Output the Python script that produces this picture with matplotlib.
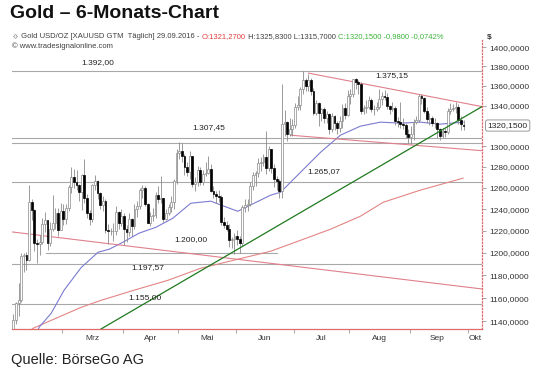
import numpy as np
import matplotlib
matplotlib.use('Agg')
import matplotlib.pyplot as plt
import matplotlib.transforms as mtransforms
from matplotlib.ticker import FixedLocator, NullLocator, FuncFormatter

# daily OHLC, XAUUSD, 03.02.2016 - 29.09.2016 (weekdays)
opens = [
    # Feb
    1128, 1141, 1156, 1158, 1197, 1198, 1194, 1247, 1239, 1209, 1208, 1210, 1226, 1230, 1209, 1222, 1227, 1236, 1221,
    # Mrz
    1238, 1231, 1241, 1261, 1270, 1265, 1263, 1256, 1272, 1250, 1236, 1231, 1263, 1266, 1255, 1244, 1248, 1221, 1220, 1220, 1220, 1237, 1227,
    # Apr
    1234, 1222, 1219, 1231, 1224, 1240, 1243, 1258, 1260, 1245, 1227, 1234, 1235, 1253, 1249, 1250, 1231, 1236, 1242, 1247, 1266,
    # Mai
    1293, 1295, 1290, 1280, 1275, 1290, 1264, 1265, 1277, 1265, 1273, 1274, 1278, 1257, 1254, 1252, 1251, 1228, 1225, 1222, 1212, 1213,
    # Jun
    1215, 1213, 1209, 1242, 1244, 1245, 1262, 1272, 1274, 1284, 1285, 1289, 1279, 1297, 1279, 1268, 1266, 1257, 1322, 1324, 1312, 1317,
    # Jul
    1321, 1339, 1341, 1357, 1366, 1360, 1366, 1355, 1333, 1343, 1333, 1337, 1328, 1332, 1317, 1330, 1323, 1318, 1325, 1338, 1331,
    # Aug
    1350, 1352, 1367, 1364, 1362, 1335, 1338, 1339, 1346, 1337, 1337, 1339, 1347, 1350, 1349, 1340, 1337, 1338, 1325, 1324, 1322, 1321, 1312,
    # Sep
    1309, 1312, 1324, 1326, 1350, 1348, 1335, 1327, 1328, 1323, 1323, 1317, 1310, 1315, 1314, 1335, 1337, 1338, 1339, 1326, 1321,
]
highs = [
    1146, 1157, 1173, 1200, 1200, 1201, 1263, 1249, 1240, 1213, 1216, 1232, 1237, 1230, 1228, 1253, 1241, 1241, 1246,
    1245, 1245, 1263, 1280, 1278, 1277, 1264, 1273, 1287, 1254, 1239, 1264, 1272, 1267, 1256, 1252, 1249, 1226, 1223, 1227, 1243, 1238, 1240,
    1236, 1225, 1236, 1232, 1245, 1248, 1260, 1263, 1262, 1246, 1237, 1241, 1256, 1262, 1271, 1250, 1240, 1245, 1252, 1268, 1297,
    1304, 1303, 1292, 1285, 1295, 1290, 1270, 1281, 1280, 1277, 1285, 1290, 1283, 1262, 1257, 1258, 1253, 1233, 1229, 1226, 1214, 1218,
    1221, 1215, 1244, 1249, 1249, 1265, 1275, 1276, 1288, 1289, 1292, 1315, 1300, 1297, 1283, 1271, 1268, 1362, 1336, 1325, 1328, 1327,
    1343, 1350, 1359, 1375, 1368, 1372, 1368, 1358, 1346, 1344, 1338, 1339, 1335, 1333, 1333, 1331, 1325, 1330, 1342, 1343, 1356,
    1357, 1367, 1368, 1366, 1364, 1341, 1346, 1350, 1348, 1341, 1344, 1357, 1354, 1356, 1353, 1341, 1344, 1340, 1329, 1344, 1328, 1323, 1317,
    1320, 1327, 1330, 1352, 1352, 1349, 1339, 1333, 1330, 1328, 1324, 1318, 1318, 1318, 1338, 1343, 1342, 1344, 1342, 1330, 1326,
]
lows = [
    1126, 1138, 1145, 1157, 1183, 1185, 1193, 1230, 1202, 1191, 1198, 1208, 1219, 1203, 1206, 1220, 1222, 1215, 1221,
    1225, 1226, 1238, 1255, 1260, 1258, 1248, 1239, 1246, 1232, 1225, 1228, 1258, 1249, 1240, 1238, 1218, 1208, 1216, 1211, 1216, 1222, 1224,
    1207, 1210, 1215, 1215, 1222, 1233, 1240, 1250, 1243, 1227, 1224, 1229, 1232, 1246, 1246, 1228, 1230, 1235, 1237, 1240, 1264,
    1287, 1285, 1272, 1271, 1268, 1261, 1257, 1262, 1263, 1263, 1271, 1273, 1256, 1250, 1246, 1247, 1225, 1223, 1220, 1205, 1204, 1199,
    1207, 1200, 1206, 1237, 1238, 1243, 1258, 1262, 1270, 1276, 1281, 1273, 1276, 1274, 1261, 1258, 1250, 1250, 1310, 1305, 1310, 1310,
    1318, 1336, 1336, 1352, 1355, 1355, 1351, 1331, 1331, 1320, 1325, 1323, 1323, 1312, 1314, 1316, 1312, 1314, 1318, 1327, 1330,
    1342, 1349, 1357, 1352, 1332, 1332, 1333, 1337, 1334, 1331, 1335, 1337, 1341, 1346, 1337, 1332, 1335, 1321, 1319, 1318, 1317, 1308, 1303,
    1302, 1306, 1322, 1324, 1342, 1333, 1323, 1321, 1320, 1318, 1308, 1306, 1308, 1309, 1312, 1332, 1335, 1333, 1322, 1316, 1316,
]
closes = [
    1141, 1156, 1158, 1197, 1198, 1194, 1247, 1239, 1209, 1208, 1210, 1226, 1230, 1209, 1222, 1227, 1236, 1221, 1238,
    1231, 1241, 1261, 1270, 1265, 1263, 1256, 1272, 1250, 1236, 1231, 1263, 1266, 1255, 1244, 1248, 1221, 1220, 1220, 1220, 1237, 1227, 1234,
    1222, 1219, 1231, 1224, 1240, 1243, 1258, 1260, 1245, 1227, 1234, 1235, 1253, 1249, 1250, 1231, 1236, 1242, 1247, 1266, 1293,
    1295, 1290, 1280, 1275, 1290, 1264, 1265, 1277, 1265, 1273, 1274, 1278, 1257, 1254, 1252, 1251, 1228, 1225, 1222, 1212, 1213, 1215,
    1213, 1209, 1242, 1244, 1245, 1262, 1272, 1274, 1284, 1285, 1289, 1279, 1297, 1279, 1268, 1266, 1257, 1322, 1324, 1312, 1317, 1321,
    1339, 1341, 1357, 1366, 1360, 1366, 1355, 1333, 1343, 1333, 1337, 1328, 1332, 1317, 1330, 1323, 1318, 1325, 1338, 1331, 1350,
    1352, 1367, 1364, 1362, 1335, 1338, 1339, 1346, 1337, 1337, 1339, 1347, 1350, 1349, 1340, 1337, 1338, 1325, 1324, 1322, 1321, 1312, 1309,
    1312, 1324, 1326, 1350, 1348, 1335, 1327, 1328, 1323, 1323, 1317, 1310, 1315, 1314, 1335, 1337, 1338, 1339, 1326, 1322, 1320,
]
assert len(opens) == len(highs) == len(lows) == len(closes) == 172

# month boundaries (bar index) and label positions
month_edges = [18.5, 41.5, 62.5, 84.5, 106.5, 127.5, 150.5, 172.5]
month_pos = [30, 52, 73.5, 95.5, 117, 139, 161, 175.5]
month_names = ['Mrz', 'Apr', 'Mai', 'Jun', 'Jul', 'Aug', 'Sep', 'Okt']

y_ticks = [1140, 1160, 1180, 1200, 1220, 1240, 1260, 1280, 1300, 1340, 1360, 1380, 1400]
last_price = 1320.15

# moving averages
ma50_x = [8, 9.8, 14.4, 19.3, 25.8, 32.2, 36.4, 40.9, 47.7, 54.2, 60.6, 67.4, 75, 85.2, 97.7, 101.5, 109.1, 116.7, 124.2, 131.8, 139.4, 147, 154.5, 162.1, 170.8]
ma50_y = [1125, 1135, 1147, 1167, 1187, 1200.6, 1203.3, 1208.7, 1217.8, 1223.3, 1231.6, 1245.5, 1247.4, 1238, 1253, 1255.8, 1274.8, 1294, 1310.6, 1319.5, 1323.5, 1322.5, 1323.5, 1321.5, 1323.5]
ma200_x = [4, 7.6, 14.4, 25.8, 33.3, 45.8, 58.7, 71.2, 83.7, 97.7, 109.1, 120.5, 131.8, 140.5, 154.5, 170.8]
ma200_y = [1128, 1134.2, 1140.9, 1152.1, 1158.1, 1166.9, 1175.6, 1186.3, 1193.4, 1201.5, 1211.4, 1221.5, 1233.4, 1246.4, 1257.7, 1269.1]

# horizontal support / resistance lines: (value, start, end)
h_levels = [1375.15, 1307.45, 1303.0, 1265.07, 1200.0, 1190.0, 1155.0]
h_start = [-0.5, -0.5, -0.5, -0.5, 12.5, -0.5, -0.5]
h_end = [178, 178, 178, 178, 100, 178, 178]
h_labels = ['1.392,00', '1.375,15', '1.307,45', '1.265,07', '1.200,00', '1.197,57', '1.155,00']
h_label_x = [32.2, 143.6, 74.2, 117.8, 67.4, 51.1, 50.0]
h_label_y = [1384.3, 1370.0, 1318.0, 1275.7, 1212.0, 1186.5, 1160.5]

# trend lines: (x0, y0, x1, y1)
tri_upper = [112.1, 1373.0, 178, 1339.0]
tri_lower = [105.3, 1310.6, 178, 1295.5]
long_down = [-0.5, 1219.0, 178, 1168.0]
green_up = [33.3, 1133.5, 178, 1339.0]

o = np.array(opens, float)
h = np.array(highs, float)
l = np.array(lows, float)
c = np.array(closes, float)
x = np.arange(len(c))
up = c >= o

fig = plt.figure(figsize=(5.4, 3.72), dpi=100)
ax = fig.add_axes([12/540, 43/372, 470/540, 289/372])
ax.set_yscale('log')

for v, a, b in zip(h_levels, h_start, h_end):
    ax.plot([a, b], [v, v], color='#a8a8a8', lw=0.8, zorder=1)

ax.plot(ma200_x, ma200_y, color='#e38585', lw=0.8, zorder=2)
ax.plot(ma50_x, ma50_y, color='#7b7bd0', lw=0.8, zorder=2)
pink = '#e0808c'
for seg in (tri_upper, tri_lower, long_down):
    ax.plot([seg[0], seg[2]], [seg[1], seg[3]], color=pink, lw=0.8, zorder=2)

ax.vlines(x, l, h, color='#8a8a8a', lw=0.6, zorder=3)
lo = np.minimum(o, c)
hi = np.maximum(o, c)
ax.bar(x[up], (hi - lo)[up], bottom=lo[up], width=0.7, color='white',
       edgecolor='#8a8a8a', lw=0.5, zorder=4)
ax.bar(x[~up], (hi - lo)[~up], bottom=lo[~up], width=0.7, color='black',
       edgecolor='black', lw=0.5, zorder=4)

ax.plot([green_up[0], green_up[2]], [green_up[1], green_up[3]], color='#1f7a1f', lw=0.9, zorder=5)

for txt, tx, ty in zip(h_labels, h_label_x, h_label_y):
    ax.text(tx, ty, txt, fontsize=6, color='#222222', ha='center', va='center',
            family='Liberation Sans', zorder=6)

ax.set_xlim(-0.5, 178)
ax.set_ylim(1133.5, 1407.5)

ax.yaxis.tick_right()
ax.yaxis.set_major_locator(FixedLocator(y_ticks))
ax.yaxis.set_minor_locator(NullLocator())
ax.yaxis.set_major_formatter(FuncFormatter(lambda v, p: f'{v:.4f}'.replace('.', ',')))
ax.tick_params(axis='y', labelsize=6, labelcolor='#333333', color='#999999', length=3, width=0.6, pad=2)

ax.xaxis.set_major_locator(FixedLocator(month_pos))
ax.xaxis.set_major_formatter(FuncFormatter(lambda v, p: month_names[p] if p is not None and p < len(month_names) else ''))
ax.set_xticks(month_pos)
ax.set_xticklabels(month_names)
ax.xaxis.set_minor_locator(FixedLocator(month_edges))
ax.tick_params(axis='x', which='major', length=0, labelsize=6, labelcolor='#333333', pad=4)
ax.tick_params(axis='x', which='minor', length=3, color='#999999', width=0.6)
for lab in ax.get_xticklabels() + ax.get_yticklabels():
    lab.set_family('Liberation Sans')

for s in ('left', 'top'):
    ax.spines[s].set_visible(False)
ax.spines['bottom'].set_color('#e06a6a')
ax.spines['bottom'].set_linewidth(0.9)
ax.spines['right'].set_color('#e06a6a')
ax.spines['right'].set_linestyle(':')
ax.spines['right'].set_linewidth(0.9)

trans = mtransforms.blended_transform_factory(ax.transAxes, ax.transData)
ax.text(1.012, last_price, '1320,1500', transform=trans, fontsize=6, color='#222222',
        va='center', ha='left', family='Liberation Sans',
        bbox=dict(boxstyle='round,pad=0.25', fc='white', ec='#8a8a8a', lw=0.6))

# title, header and source
fig.text(10/540, 1 - 14/372, 'Gold – 6-Monats-Chart', fontsize=14, weight='bold',
         family='Liberation Sans', va='center', ha='left', color='#111111')
fig.text(11/540, 1 - 360/372, 'Quelle: BörseGo AG', fontsize=10.5,
         family='Liberation Sans', va='center', ha='left', color='#222222')

pieces = [('☼ Gold USD/OZ [XAUUSD GTM  Täglich] 29.09.2016 - ', '#404040'),
          ('O:1321,2700', '#e03c3c'),
          (' H:1325,8300 L:1315,7000 ', '#404040'),
          ('C:1320,1500 -0,9800 -0,0742%', '#3cb43c')]
renderer = fig.canvas.get_renderer()
xp = 12/540
for txt, col in pieces:
    t = fig.text(xp, 1 - 37/372, txt, fontsize=5.5, color=col, va='center', ha='left',
                 family=['Liberation Sans', 'DejaVu Sans'])
    bb = t.get_window_extent(renderer)
    xp = bb.x1 / fig.bbox.width
fig.text(12/540, 1 - 46/372, '© www.tradesignalonline.com', fontsize=5.5, color='#404040',
         va='center', ha='left', family='Liberation Sans')
fig.text(487/540, 1 - 37/372, '$', fontsize=6, weight='bold', color='#333333',
         va='center', ha='left', family='Liberation Sans')

fig.savefig('out.png', dpi=100)
